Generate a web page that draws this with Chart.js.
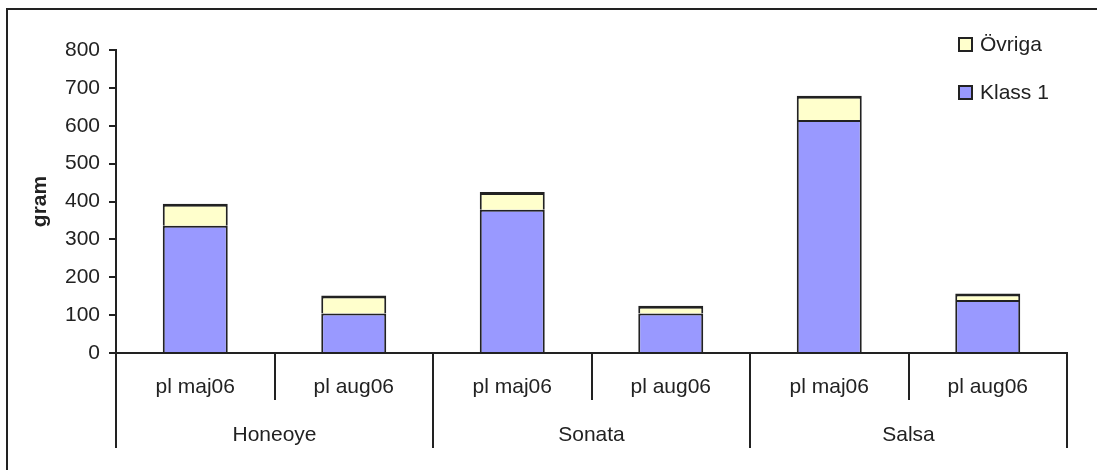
<!DOCTYPE html>
<html>
<head>
<meta charset="utf-8">
<script src="https://cdn.jsdelivr.net/npm/chart.js@4.4.1/dist/chart.umd.min.js"></script>
<style>
  html, body { margin: 0; padding: 0; background: #fff; overflow: hidden; }
  canvas { display: block; }
</style>
</head>
<body>
<canvas id="c" width="1097" height="470"></canvas>
<script>
// Sub-categories (planting date) and their variety groups
const categories = ['pl maj06', 'pl aug06', 'pl maj06', 'pl aug06', 'pl maj06', 'pl aug06'];
const groups = ['Honeoye', 'Sonata', 'Salsa'];

// Yield per fraction, gram
const klass1 = [336, 104, 378, 104, 615, 140];
const ovriga = [58, 48, 47, 21, 64, 17];

// Value axis
const yMin = 0;
const yMax = 800;
const yStep = 100;

const FONT = '"Liberation Sans", Arial, sans-serif';
const INK = '#222222';

// Outer frame line along the top and left of the figure
const framePlugin = {
  id: 'frame',
  beforeDraw(chart) {
    const ctx = chart.ctx;
    ctx.save();
    ctx.fillStyle = '#ffffff';
    ctx.fillRect(0, 0, chart.width, chart.height);
    ctx.strokeStyle = INK;
    ctx.lineWidth = 2;
    ctx.beginPath();
    ctx.moveTo(7, chart.height);
    ctx.lineTo(7, 9);
    ctx.lineTo(chart.width, 9);
    ctx.stroke();
    ctx.restore();
  }
};

// Two-level category axis below the plot
const groupAxisPlugin = {
  id: 'groupAxis',
  afterDraw(chart) {
    const ctx = chart.ctx;
    const xs = chart.scales.x;
    const base = chart.chartArea.bottom;
    const half = (xs.getPixelForValue(1) - xs.getPixelForValue(0)) / 2;
    const perGroup = categories.length / groups.length;
    ctx.save();
    ctx.strokeStyle = INK;
    ctx.lineWidth = 2;
    for (let i = 0; i <= categories.length; i++) {
      const px = Math.round(xs.getPixelForValue(0) - half + i * 2 * half);
      const isGroupEdge = i % perGroup === 0;
      ctx.beginPath();
      ctx.moveTo(px, base);
      ctx.lineTo(px, base + (isGroupEdge ? 95 : 47));
      ctx.stroke();
    }
    ctx.fillStyle = INK;
    ctx.font = '21px ' + FONT;
    ctx.textAlign = 'center';
    ctx.textBaseline = 'alphabetic';
    categories.forEach((lab, i) => {
      ctx.fillText(lab, xs.getPixelForValue(i), base + 40);
    });
    groups.forEach((g, gi) => {
      const a = xs.getPixelForValue(gi * perGroup);
      const b = xs.getPixelForValue(gi * perGroup + perGroup - 1);
      ctx.fillText(g, (a + b) / 2, base + 88);
    });
    ctx.restore();
  }
};

// Legend inside the plot's upper right corner, top series first
const cornerLegendPlugin = {
  id: 'cornerLegend',
  afterDraw(chart) {
    const ctx = chart.ctx;
    const area = chart.chartArea;
    const x0 = area.right - 108;
    const sets = chart.data.datasets.slice().reverse();
    ctx.save();
    ctx.font = '21px ' + FONT;
    ctx.textAlign = 'left';
    ctx.textBaseline = 'alphabetic';
    sets.forEach((ds, i) => {
      const y = area.top - 12 + i * 48;
      ctx.fillStyle = ds.backgroundColor;
      ctx.fillRect(x0, y, 13, 13);
      ctx.strokeStyle = INK;
      ctx.lineWidth = 2;
      ctx.strokeRect(x0, y, 13, 13);
      ctx.fillStyle = INK;
      ctx.fillText(ds.label, x0 + 21, y + 13);
    });
    ctx.restore();
  }
};

new Chart(document.getElementById('c'), {
  type: 'bar',
  data: {
    labels: categories,
    datasets: [
      {
        label: 'Klass 1',
        data: klass1,
        backgroundColor: '#9999FF',
        borderColor: INK,
        borderWidth: { top: 2, left: 2, right: 2, bottom: 0 },
        borderSkipped: false
      },
      {
        label: 'Övriga',
        data: ovriga,
        backgroundColor: '#FFFFCC',
        borderColor: INK,
        borderWidth: { top: 3, left: 2, right: 2, bottom: 0 },
        borderSkipped: false
      }
    ]
  },
  options: {
    responsive: false,
    animation: false,
    devicePixelRatio: 1,
    datasets: { bar: { categoryPercentage: 1, barPercentage: 0.41 } },
    layout: { padding: { top: 50, right: 30, left: 0, bottom: 0 } },
    plugins: { legend: { display: false }, tooltip: { enabled: false } },
    scales: {
      x: {
        stacked: true,
        ticks: { display: false },
        grid: { display: true, drawOnChartArea: false, drawTicks: false },
        border: { display: true, color: INK, width: 2 },
        afterFit(scale) { scale.height = 117; }
      },
      y: {
        stacked: true,
        min: yMin,
        max: yMax,
        ticks: {
          stepSize: yStep,
          color: INK,
          font: { family: FONT, size: 21 },
          padding: 9
        },
        grid: { display: true, drawOnChartArea: false, drawTicks: true, tickLength: 7, color: INK, lineWidth: 2 },
        border: { display: true, color: INK, width: 2 },
        title: {
          display: true,
          text: 'gram',
          color: INK,
          font: { family: FONT, size: 21, weight: 'bold' },
          padding: { top: 28, bottom: 0 }
        },
        afterFit(scale) { scale.width = 116; }
      }
    }
  },
  plugins: [framePlugin, groupAxisPlugin, cornerLegendPlugin]
});
</script>
</body>
</html>
